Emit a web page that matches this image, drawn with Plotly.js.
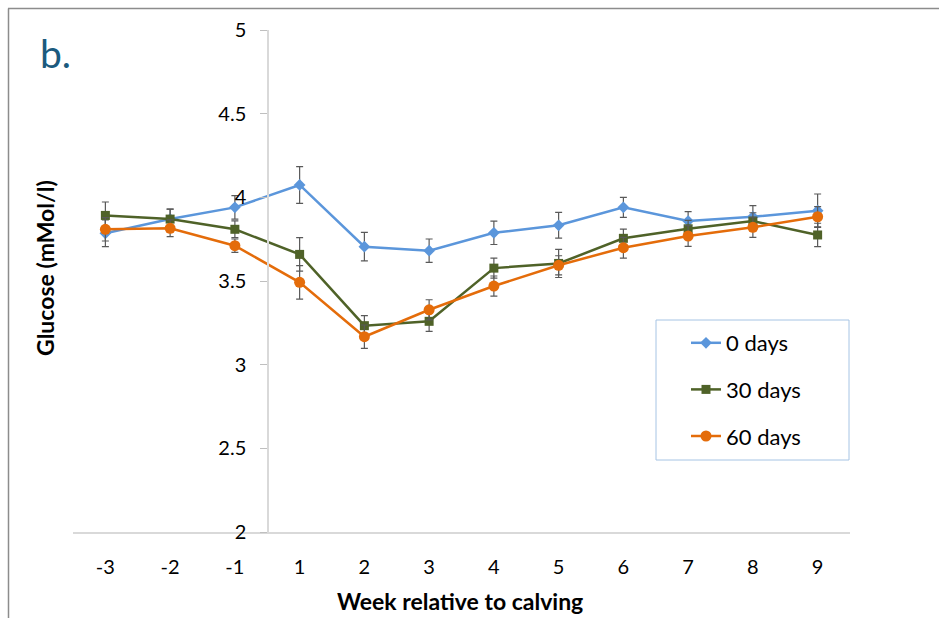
<!DOCTYPE html>
<html>
<head>
<meta charset="utf-8">
<script src="https://cdn.plot.ly/plotly-3.0.1.min.js"></script>
<style>
html,body{margin:0;padding:0;background:#fff;}
#chart{width:939px;height:618px;}
</style>
</head>
<body>
<div id="chart"></div>
<script>
// Data
var weeks = ["-3","-2","-1","1","2","3","4","5","6","7","8","9"];
var days0  = [3.785, 3.870, 3.940, 4.074, 3.705, 3.681, 3.788, 3.833, 3.940, 3.858, 3.884, 3.920];
var days0Err = [0.08, 0.06, 0.07, 0.11, 0.085, 0.07, 0.07, 0.077, 0.06, 0.056, 0.066, 0.10];
var days30 = [3.892, 3.870, 3.809, 3.659, 3.233, 3.259, 3.577, 3.605, 3.755, 3.812, 3.858, 3.775];
var days30Err = [0.08, 0.06, 0.05, 0.10, 0.06, 0.06, 0.06, 0.084, 0.055, 0.05, 0.05, 0.07];
var days60 = [3.809, 3.815, 3.711, 3.492, 3.167, 3.328, 3.470, 3.594, 3.699, 3.769, 3.821, 3.884];
var days60Err = [0.07, 0.05, 0.04, 0.10, 0.07, 0.06, 0.06, 0.057, 0.062, 0.062, 0.06, 0.06];
var seriesNames = ["0 days", "30 days", "60 days"];
var yTicks = [2, 2.5, 3, 3.5, 4, 4.5, 5];

var idx = weeks.map(function(_, i){ return i; });
var FONT = "Lato, 'Open Sans', sans-serif";

// pixel helpers
var W = 939, H = 618, ML = 73, MR = 89, MT = 30, MB = 86;
var PW = W - ML - MR, PH = H - MT - MB;
function px(x){ return (x - ML) / PW; }
function py(y){ return (H - MB - y) / PH; }

function mk(y, err, name, color, symbol, size, group){
  return {
    x: idx, y: y, name: name, type: 'scatter', mode: 'lines+markers',
    legendgroup: group,
    line: {color: color, width: 2.5},
    marker: {color: color, symbol: symbol, size: size},
    error_y: {type: 'data', array: err, visible: true, color: '#595959', thickness: 1.2, width: 3.5}
  };
}

var traces = [
  mk(days0, days0Err, seriesNames[0], '#5B96DB', 'diamond', 9, 'a'),
  mk(days30, days30Err, seriesNames[1], '#4F6228', 'square', 9, 'b'),
  mk(days60, days60Err, seriesNames[2], '#E46C0A', 'circle', 11, 'c')
];

var layout = {
  width: W, height: H,
  margin: {l: ML, r: MR, t: MT, b: MB},
  paper_bgcolor: '#fff', plot_bgcolor: 'rgba(0,0,0,0)',
  font: {family: FONT, color: '#000', size: 20},
  showlegend: true,
  legend: {
    x: px(686), y: py(322), xanchor: 'left', yanchor: 'top',
    bgcolor: 'rgba(0,0,0,0)', borderwidth: 0,
    font: {family: FONT, size: 22, color: '#000'},
    traceorder: 'grouped', tracegroupgap: 15, itemwidth: 30
  },
  xaxis: {
    range: [-0.5, 11.5], tickmode: 'array', tickvals: idx, ticktext: weeks,
    showline: true, linecolor: '#D9D9D9', linewidth: 1.5,
    showgrid: false, zeroline: false,
    ticks: 'outside', ticklen: 16, tickcolor: 'rgba(0,0,0,0)',
    tickfont: {family: FONT, size: 20, color: '#000'},
    fixedrange: true
  },
  yaxis: {
    range: [2, 5], tickmode: 'array', tickvals: yTicks,
    anchor: 'free', position: 0.25,
    showline: true, linecolor: '#D9D9D9', linewidth: 1.5,
    showgrid: false, zeroline: false,
    ticks: 'outside', ticklen: 7, tickcolor: '#BFBFBF', tickwidth: 1,
    ticklabelstandoff: 10,
    tickfont: {family: FONT, size: 20, color: '#000'},
    fixedrange: true
  },
  shapes: [
    {type: 'rect', xref: 'paper', yref: 'paper', x0: px(656), x1: px(849), y0: py(460), y1: py(320),
     line: {color: '#A6C4E4', width: 1}, fillcolor: 'rgba(0,0,0,0)'},
    {type: 'line', xref: 'paper', yref: 'paper', x0: px(8), x1: px(939), y0: py(8.5), y1: py(8.5),
     line: {color: '#8C8C8C', width: 1.5}},
    {type: 'line', xref: 'paper', yref: 'paper', x0: px(8.5), x1: px(8.5), y0: py(8.5), y1: py(618),
     line: {color: '#8C8C8C', width: 1.5}}
  ],
  annotations: [
    {text: 'b.', xref: 'paper', yref: 'paper', x: px(38), y: py(53), xanchor: 'left', yanchor: 'middle',
     showarrow: false, font: {family: FONT, size: 39, color: '#1B5A7E'}},
    {text: '<b>Glucose (mMol/l)</b>', xref: 'paper', yref: 'paper', x: px(45), y: py(268),
     xanchor: 'center', yanchor: 'middle', textangle: -90, showarrow: false,
     font: {family: FONT, size: 23, color: '#000'}},
    {text: '<b>Week relative to calving</b>', xref: 'paper', yref: 'paper', x: px(460), y: py(601),
     xanchor: 'center', yanchor: 'middle', showarrow: false,
     font: {family: FONT, size: 23, color: '#000'}}
  ]
};

Plotly.newPlot('chart', traces, layout, {displayModeBar: false, staticPlot: true});
</script>
</body>
</html>
